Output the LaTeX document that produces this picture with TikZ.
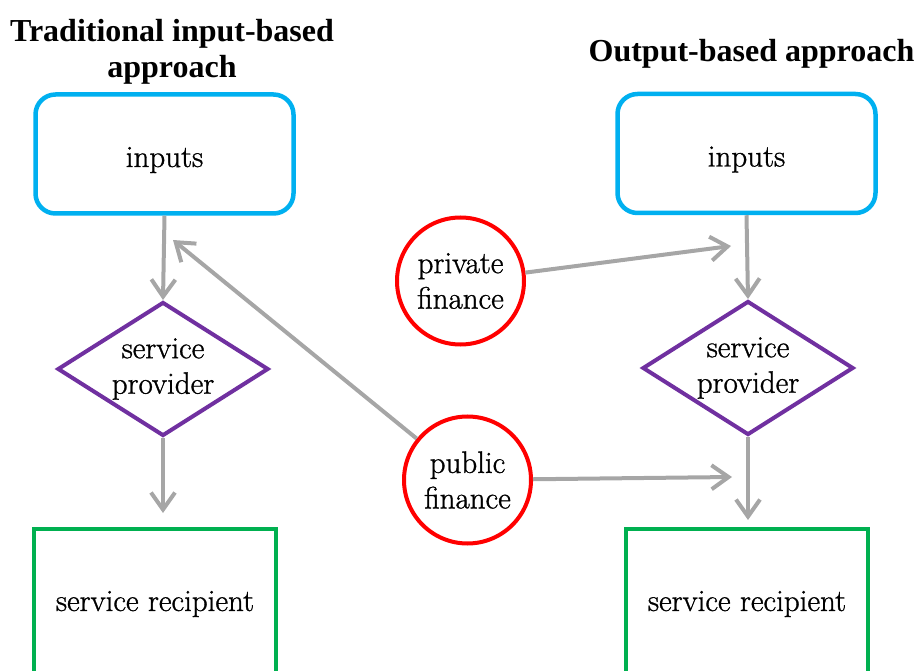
\documentclass[tikz,border=0pt]{standalone}
\usepackage{fontspec}
\newfontfamily\titlefont{Liberation Serif}
\newfontfamily\bodyfont{Latin Modern Roman}[FakeBold=1]
\usetikzlibrary{shapes.geometric,arrows.meta}
\definecolor{boxblue}{HTML}{00B0F0}
\definecolor{dpurple}{HTML}{7030A0}
\definecolor{rgreen}{HTML}{00B050}
\definecolor{cred}{HTML}{FF0000}
\definecolor{agray}{HTML}{A6A6A6}
\tikzset{
  body/.style={font=\bodyfont\fontsize{31}{35.5}\selectfont, align=center, text=black},
  title/.style={font=\titlefont\fontsize{32}{36}\selectfont\bfseries, align=center, inner sep=0pt, anchor=north},
  inbox/.style={body, draw=boxblue, line width=4.5pt, rounded corners=20pt, minimum width=258pt, minimum height=119pt, inner sep=0pt, text height=26pt, text depth=0pt},
  provider/.style={body, draw=dpurple, line width=4pt, diamond, aspect=1.56, minimum width=211pt, minimum height=134pt, inner sep=0pt},
  recipient/.style={body, draw=rgreen, line width=4.5pt, minimum width=242pt, minimum height=150pt, inner sep=0pt},
  finance/.style={body, draw=cred, line width=4pt, circle, minimum size=127pt, inner sep=0pt},
  conn/.style={draw=agray, line width=4pt, -{Straight Barb[length=17pt, width=24pt, line width=4pt]}}
}
\begin{document}
\begin{tikzpicture}[x=1pt, y=-1pt]
\useasboundingbox (0,0) rectangle (922,671);
\clip (0,0) rectangle (922,671);
% titles
\node[title] (t1) at (172,19) {Traditional input-based\\approach};
\node[title] (t2) at (751.5,39) {Output-based approach};
% left column
\node[inbox] (in1) at (164.5,154) {inputs};
\node[provider] (sp1) at (163,369) {service\\provider};
\node[recipient] (sr1) at (155,604) {service recipient};
% right column
\node[inbox] (in2) at (746.5,153.5) {inputs};
\node[provider] (sp2) at (748,368) {service\\provider};
\node[recipient] (sr2) at (747,604) {service recipient};
% finance
\node[finance] (pf) at (460.5,281) {private\\finance};
\node[finance] (pub) at (467.5,480) {public\\finance};
% free ends
\coordinate (e1) at (163,513);
\coordinate (e2) at (748,520);
\coordinate (pubL) at (173,240);
\coordinate (privR) at (731,246);
\coordinate (pubR) at (732,477);
% connectors
\draw[conn] (in1.south) -- (sp1.north);
\draw[conn] (sp1.south) -- (e1);
\draw[conn] (in2.south) -- (sp2.north);
\draw[conn] (sp2.south) -- (e2);
\draw[conn] (pub) -- (pubL);
\draw[conn] (pf) -- (privR);
\draw[conn] (pub) -- (pubR);
\end{tikzpicture}
\end{document}
